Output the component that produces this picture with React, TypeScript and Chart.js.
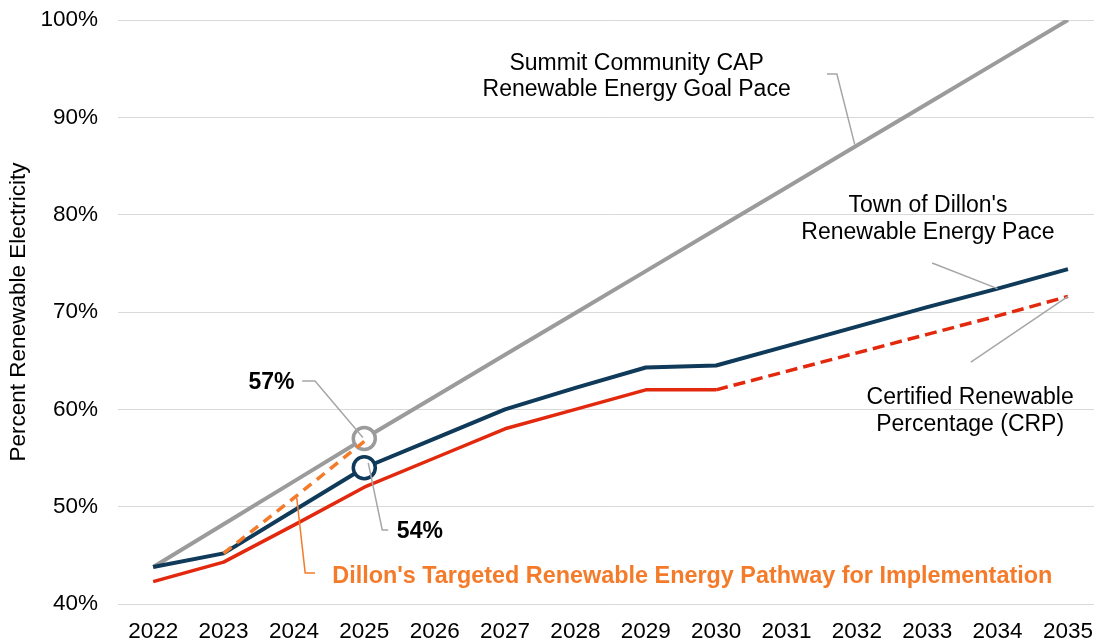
import React, { useEffect, useRef } from 'react';
import { Chart, registerables } from 'chart.js';

Chart.register(...registerables);

const years = ['2022', '2023', '2024', '2025', '2026', '2027', '2028', '2029', '2030', '2031', '2032', '2033', '2034', '2035'];

const summitGoal = [43.8, 48.2, 52.6, 57.0, 61.3, 65.6, 69.9, 74.2, 78.5, 82.8, 87.1, 91.4, 95.7, 100];
const dillonPace = [43.8, 45.2, 49.6, 54.0, 57.0, 60.0, 62.2, 64.3, 64.5, 66.5, 68.5, 70.5, 72.4, 74.4];
const crpActual = [42.3, 44.3, 48.1, 52.0, 55.0, 58.0, 60.0, 62.0, 62.0, null, null, null, null, null];
const crpProjected = [null, null, null, null, null, null, null, null, 62.0, 63.9, 65.8, 67.7, 69.6, 71.6];
const targetPath = [null, 45.2, 50.9, 56.7, null, null, null, null, null, null, null, null, null, null];

const yTicks = [40, 50, 60, 70, 80, 90, 100];
const yTitle = 'Percent Renewable Electricity';

const GRAY = '#9b9b9b';
const NAVY = '#0f3a5a';
const RED = '#e2290d';
const ORANGE = '#f47b2a';
const LEADER = '#a6a6a6';
const FONT = '"Liberation Sans", Arial, sans-serif';

// Annotation labels, anchored in data units (category index, percent)
const noteLines = [
  ['Summit Community CAP', 'Renewable Energy Goal Pace'],
  ["Town of Dillon's", 'Renewable Energy Pace'],
  ['Certified Renewable', 'Percentage (CRP)'],
  ['57%'],
  ['54%'],
  ["Dillon's Targeted Renewable Energy Pathway for Implementation"],
];
const noteX = [6.87, 11.01, 11.61, 1.68, 3.79, 2.545];
const noteY = [[94.87, 92.19], [80.28, 77.5], [60.55, 57.77], [62.09], [46.78], [42.16]];
const noteBold = [false, false, false, true, true, true];
const noteAlign: CanvasTextAlign[] = ['center', 'center', 'center', 'center', 'center', 'left'];
const noteColor = ['#000', '#000', '#000', '#000', '#000', ORANGE];
const noteSize = [23, 23, 23, 23, 23, 23.4];

const leaders: { pts: number[][]; color: string }[] = [
  { pts: [[9.575, 94.45], [9.716, 94.45], [9.97, 87.2]], color: LEADER },
  { pts: [[11.07, 75.03], [12, dillonPace[12]]], color: LEADER },
  { pts: [[11.62, 64.86], [13, crpProjected[13] as number]], color: LEADER },
  { pts: [[2.117, 62.91], [2.3, 62.91], [2.98, 57.1]], color: LEADER },
  { pts: [[3.056, 54.49], [3.255, 47.6], [3.34, 47.6]], color: LEADER },
  { pts: [[2.04, 50.9], [2.16, 43.19], [2.3, 43.19]], color: ORANGE },
];

const markerAt = (idx: number, r: number) => years.map((_, i) => (i === idx ? r : 0));

export default function App() {
  const ref = useRef<HTMLCanvasElement>(null);

  useEffect(() => {
    if (!ref.current) return;

    const notesPlugin = {
      id: 'notes',
      afterDatasetsDraw(chart: any) {
        const ctx = chart.ctx as CanvasRenderingContext2D;
        const xs = chart.scales.x;
        const ys = chart.scales.y;
        const px = (v: number) => xs.getPixelForValue(v);
        const py = (v: number) => ys.getPixelForValue(v);
        ctx.save();
        leaders.forEach((l) => {
          ctx.beginPath();
          ctx.strokeStyle = l.color;
          ctx.lineWidth = 1.5;
          l.pts.forEach((p, i) => {
            if (i === 0) ctx.moveTo(px(p[0]), py(p[1]));
            else ctx.lineTo(px(p[0]), py(p[1]));
          });
          ctx.stroke();
        });
        noteLines.forEach((lines, i) => {
          ctx.font = `${noteBold[i] ? 'bold ' : ''}${noteSize[i]}px ${FONT}`;
          ctx.fillStyle = noteColor[i];
          ctx.textAlign = noteAlign[i];
          ctx.textBaseline = 'alphabetic';
          lines.forEach((t, j) => {
            ctx.fillText(t, px(noteX[i]), py(noteY[i][j]));
          });
        });
        ctx.restore();
      },
    };

    const common = {
      fill: false,
      tension: 0,
      borderJoinStyle: 'round' as const,
      pointHoverRadius: 0,
      pointBackgroundColor: '#ffffff',
      pointBorderWidth: 3.5,
    };

    const chart = new Chart(ref.current, {
      type: 'line',
      data: {
        labels: years,
        datasets: [
          {
            ...common,
            label: 'Targeted Pathway',
            data: targetPath,
            borderColor: ORANGE,
            borderWidth: 3.5,
            borderDash: [10, 7],
            pointRadius: 0,
          },
          {
            ...common,
            label: "Town of Dillon's Pace",
            data: dillonPace,
            borderColor: NAVY,
            pointBorderColor: NAVY,
            borderWidth: 4,
            pointRadius: markerAt(3, 11),
          },
          {
            ...common,
            label: 'Summit Goal',
            data: summitGoal,
            borderColor: GRAY,
            pointBorderColor: GRAY,
            borderWidth: 4,
            pointRadius: markerAt(3, 11),
          },
          {
            ...common,
            label: 'CRP',
            data: crpActual,
            borderColor: RED,
            borderWidth: 3.5,
            pointRadius: 0,
          },
          {
            ...common,
            label: 'CRP projected',
            data: crpProjected,
            borderColor: RED,
            borderWidth: 3.5,
            borderDash: [12, 6],
            pointRadius: 0,
          },
        ],
      },
      options: {
        responsive: false,
        animation: false,
        events: [],
        layout: { padding: { top: 20, left: 0, right: 0, bottom: 0 } },
        plugins: { legend: { display: false }, tooltip: { enabled: false } },
        scales: {
          x: {
            type: 'category',
            offset: true,
            grid: { display: false, drawTicks: false },
            border: { display: false },
            ticks: {
              color: '#000',
              font: { family: FONT, size: 22.5 },
              padding: 14,
              maxRotation: 0,
              autoSkip: false,
            },
            afterFit: (s: any) => {
              s.height = 39;
            },
          },
          y: {
            min: yTicks[0],
            max: yTicks[yTicks.length - 1],
            afterBuildTicks: (s: any) => {
              s.ticks = yTicks.map((v) => ({ value: v }));
            },
            ticks: {
              color: '#000',
              font: { family: FONT, size: 22.5 },
              padding: 20,
              callback: (v: any) => `${v}%`,
            },
            grid: { color: '#d9d9d9', lineWidth: 1, drawTicks: false },
            border: { display: false },
            title: {
              display: true,
              text: yTitle,
              color: '#000',
              font: { family: FONT, size: 22.5 },
              padding: { top: 5, bottom: 0 },
            },
            afterFit: (s: any) => {
              s.width = 118;
              s.paddingTop = 0;
              s.paddingBottom = 0;
            },
          },
        },
      },
      plugins: [notesPlugin],
    });

    return () => chart.destroy();
  }, []);

  return (
    <div style={{ position: 'absolute', left: 0, top: 0, width: 1094, height: 643, overflow: 'hidden', background: '#fff' }}>
      <canvas ref={ref} width={1107} height={643} style={{ display: 'block' }} />
    </div>
  );
}
